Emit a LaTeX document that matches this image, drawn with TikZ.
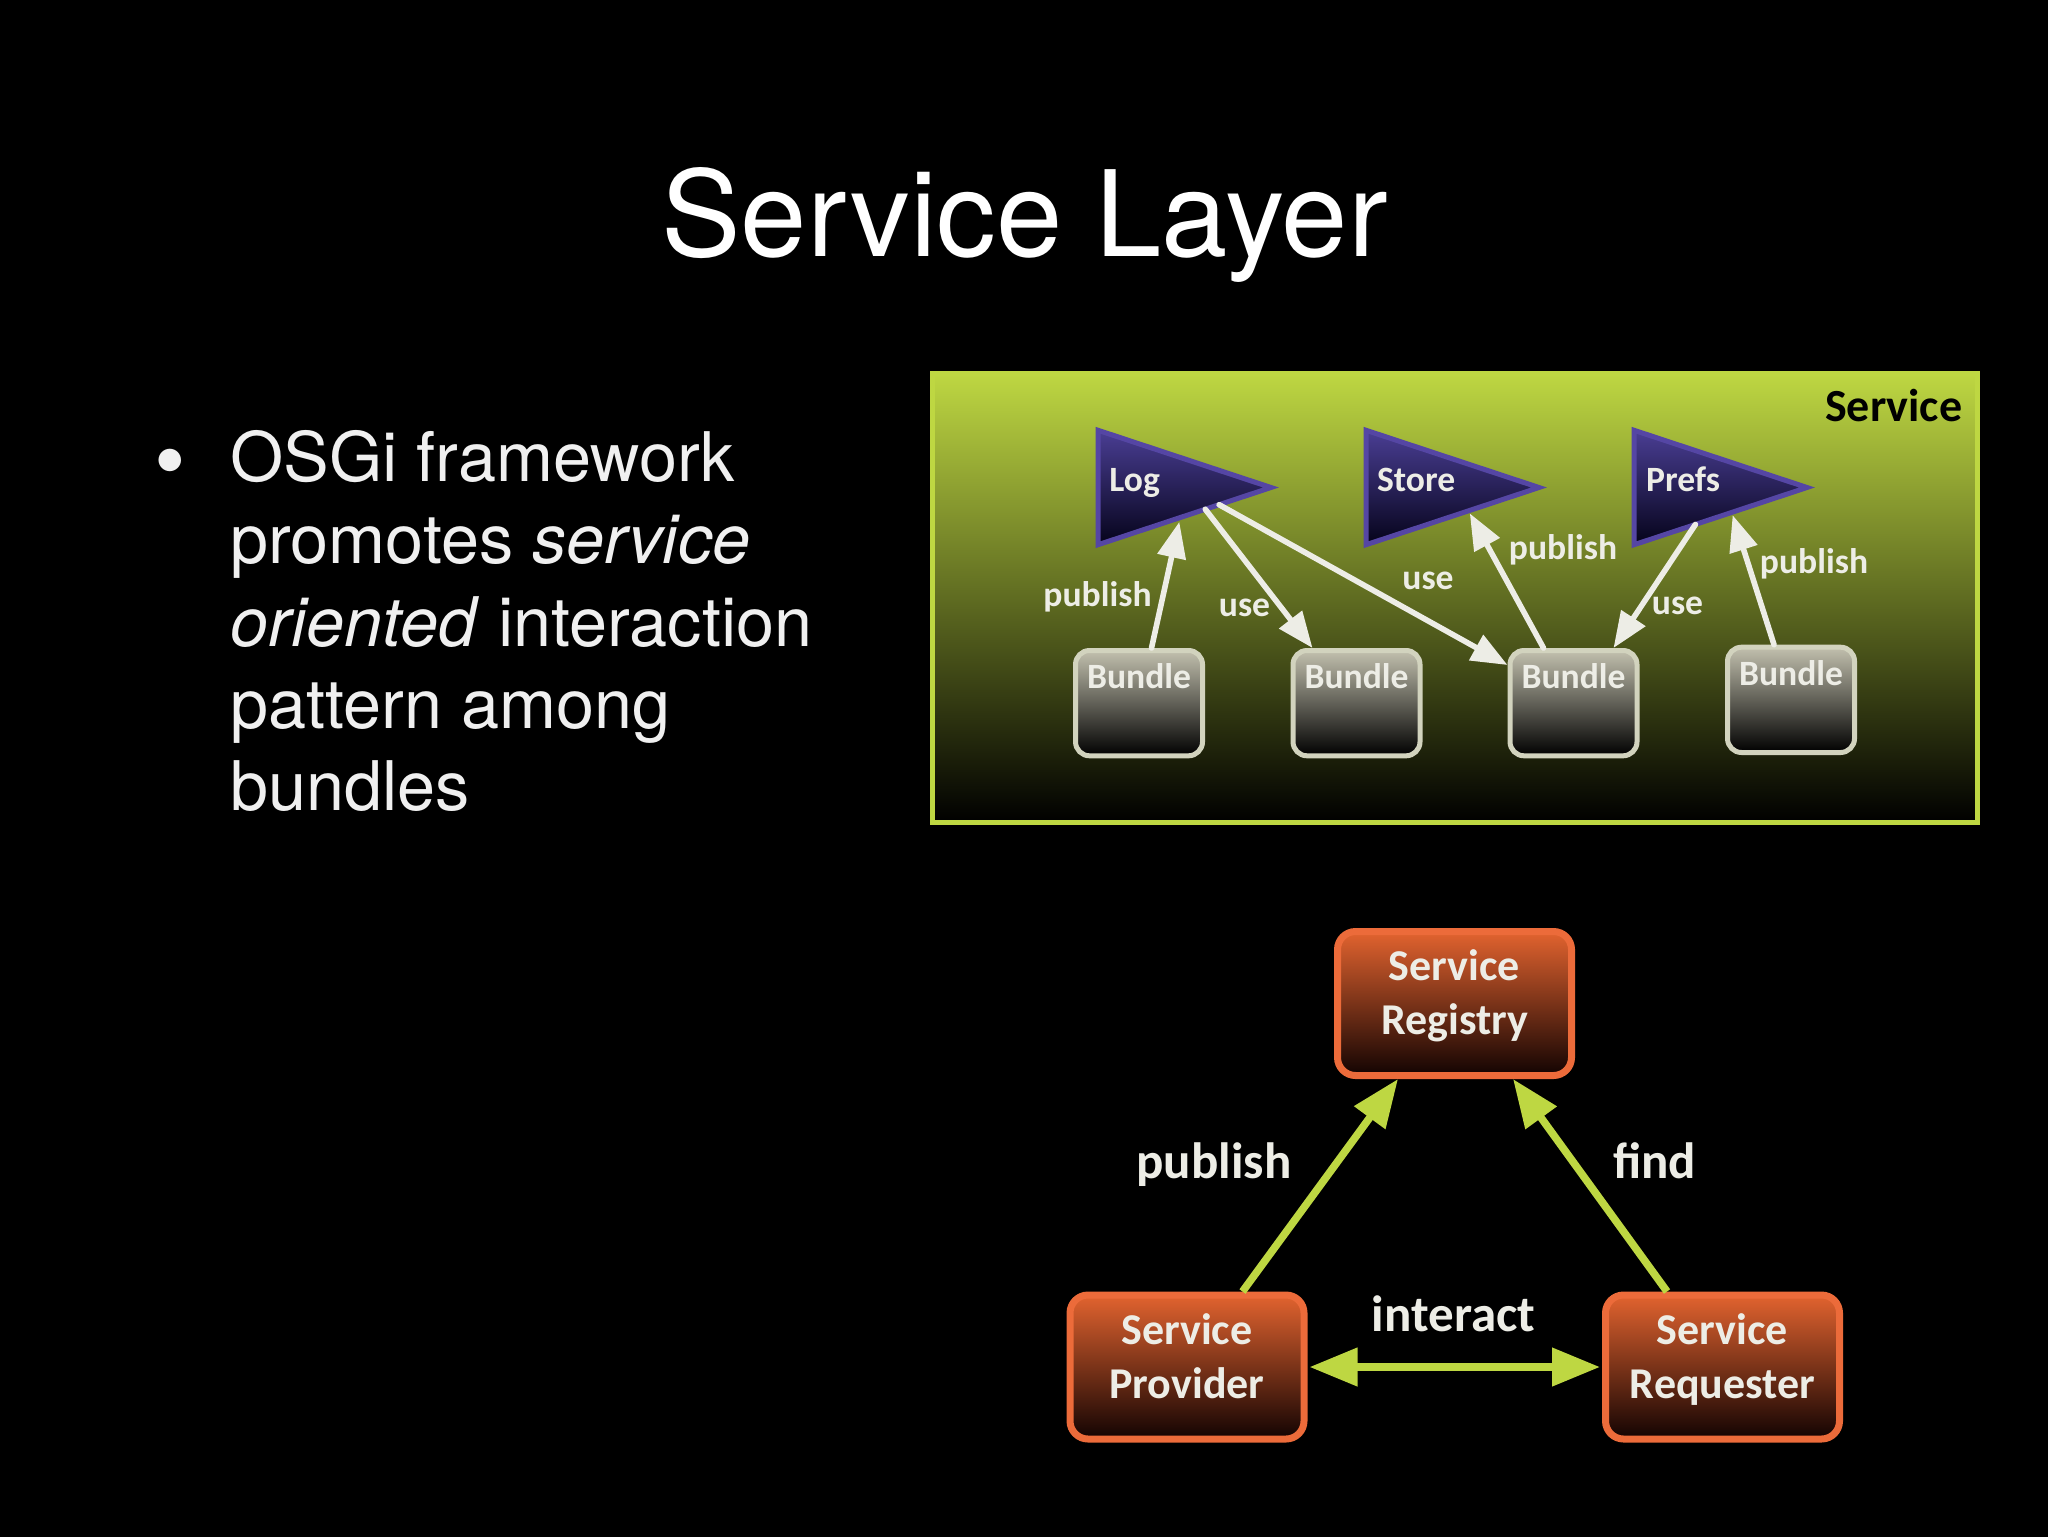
\documentclass[tikz,border=0pt]{standalone}
\usepackage{fontspec}
\setmainfont{TeX Gyre Heros}
\newfontfamily\dfont{Carlito}
\usetikzlibrary{arrows.meta,calc,shapes.geometric}
\definecolor{lime}{HTML}{BED742}
\definecolor{panelmid}{HTML}{6A7A22}
\definecolor{offwhite}{HTML}{EDEDE6}
\definecolor{bodytext}{HTML}{F0F0F0}
\definecolor{triline}{HTML}{5546A4}
\definecolor{tritop}{HTML}{4A3E94}
\definecolor{tribot}{HTML}{05031A}
\definecolor{bundleline}{HTML}{D2D3BE}
\definecolor{bundletop}{HTML}{C2C0AE}
\definecolor{bundlemid}{HTML}{77756A}
\definecolor{orangeline}{HTML}{EC6B3A}
\definecolor{orangetop}{HTML}{E2632F}
\definecolor{orangemid}{HTML}{853719}
\definecolor{orangebot}{HTML}{120302}
\newcommand{\roledepth}{\rule[-11pt]{0pt}{11pt}}
\tikzset{
  x=0.5pt,y=-0.5pt,
  panelbox/.style={draw=lime,line width=2.5pt,top color=lime,middle color=panelmid,bottom color=black,
    minimum width=522.5pt,minimum height=224.5pt,inner sep=0pt,outer sep=0pt},
  servicetri/.style={isosceles triangle,isosceles triangle apex angle=36,isosceles triangle stretches,
    shape border rotate=0,draw=triline,line width=2.5pt,top color=tritop,bottom color=tribot,
    minimum width=57.25pt,minimum height=86.5pt,inner sep=0pt,outer sep=0pt,anchor=lower side},
  bundlebox/.style={rectangle,rounded corners=7pt,draw=bundleline,line width=2.5pt,
    top color=bundletop,middle color=bundlemid,bottom color=black,
    font=\dfont\bfseries\fontsize{17.8}{20}\selectfont,text=offwhite,
    text height=19.15pt,text depth=33.5pt,text width=63.5pt,align=center,inner sep=0pt,outer sep=1.25pt,anchor=north},
  rolebox/.style={rectangle,rounded corners=9pt,draw=orangeline,line width=3.5pt,
    top color=orangetop,middle color=orangemid,bottom color=orangebot,
    font=\dfont\bfseries\fontsize{22}{27}\selectfont,text=offwhite,align=center,
    minimum width=117pt,minimum height=72pt,inner sep=0pt,outer sep=1.75pt},
  smalltext/.style={font=\dfont\bfseries\fontsize{17.8}{20}\selectfont,text=offwhite,anchor=base,inner sep=0pt},
  bigtext/.style={font=\dfont\bfseries\fontsize{25.5}{28}\selectfont,text=offwhite,anchor=base,inner sep=0pt},
  whitearrow/.style={draw=offwhite,line width=2.8pt,line cap=round,
    -{Triangle[length=18pt,width=14pt,fill=offwhite]}},
  limearrow/.style={draw=lime,line width=3.8pt,
    -{Triangle[length=24pt,width=18.5pt,fill=lime]}},
  limebiarrow/.style={draw=lime,line width=3.8pt,shorten <=1pt,shorten >=1pt,
    {Triangle[length=24pt,width=18.5pt,fill=lime]}-{Triangle[length=24pt,width=18.5pt,fill=lime]}},
}
\begin{document}
\begin{tikzpicture}
\useasboundingbox (0,0) rectangle (2048,1536);
\fill[black] (-6,-6) rectangle (2054,1542);

\node[anchor=base,text=white,font=\fontsize{59.6}{70}\selectfont,inner sep=0pt] (title) at (1024.5,256) {Service Layer};
\node[anchor=base,text=bodytext,font=\fontsize{45}{50}\selectfont,inner sep=0pt] (bullet) at (170,491) {\textbullet};
\node[anchor=north west,text=bodytext,align=left,inner sep=0pt,font=\fontsize{34.2}{41.15}\selectfont] (body) at (230,430)
  {OSGi framework\\promotes \textit{service}\\\textit{oriented} interaction\\pattern among\\bundles};

% upper panel
\node[panelbox] (panel) at (1455,598) {};
\node[anchor=base east,inner sep=0pt,text=black,font=\dfont\bfseries\fontsize{23}{26}\selectfont] (paneltitle) at (1962.6,421.5) {Service};

\node[servicetri] (log) at (1098,487.5) {};
\node[servicetri] (store) at (1366,487.5) {};
\node[servicetri] (prefs) at (1634,487.5) {};
\node[smalltext,anchor=base west] (logt) at (1109,491) {Log};
\node[smalltext,anchor=base west] (storet) at (1376.7,491) {Store};
\node[smalltext,anchor=base west] (prefst) at (1645.7,491) {Prefs};

\node[bundlebox] (b1) at (1139,648) {Bundle};
\node[bundlebox] (b2) at (1356.5,648) {Bundle};
\node[bundlebox] (b3) at (1573.5,648) {Bundle};
\node[bundlebox] (b4) at (1791,644.7) {Bundle};

\draw[whitearrow] ($(b1.north)+(12.5,0)$) -- ($(log.right corner)!.47!(log.apex)+(0,4)$);
\draw[whitearrow] ($(log.right corner)!.62!(log.apex)$) -- ($(b2.north)+(-44,0)$);
\draw[whitearrow] ($(log.right corner)!.70!(log.apex)$) -- ($(b3.north west)+(0,17)$);
\draw[whitearrow] ($(b3.north)+(-30,0)$) -- ($(store.right corner)!.60!(store.apex)+(0,3)$);
\draw[whitearrow] ($(prefs.right corner)!.355!(prefs.apex)$) -- ($(b3.north)+(40,0)$);
\draw[whitearrow] ($(b4.north)+(-17,0)$) -- ($(prefs.right corner)!.57!(prefs.apex)+(0,3)$);

\node[smalltext] (l1) at (1097.5,606) {publish};
\node[smalltext] (l2) at (1244.5,616) {use};
\node[smalltext] (l3) at (1428,589) {use};
\node[smalltext] (l4) at (1563,559) {publish};
\node[smalltext] (l5) at (1677.5,614) {use};
\node[smalltext] (l6) at (1814,573.5) {publish};

% lower triangle
\node[rolebox] (reg) at (1454.5,1003.5) {Service\\Registry\roledepth};
\node[rolebox] (prov) at (1187,1367) {Service\\Provider\roledepth};
\node[rolebox] (req) at (1722.5,1367) {Service\\Requester\roledepth};

\draw[limearrow] ($(prov.north)+(55.5,0)$) -- ($(reg.south)+(-56.5,0)$);
\draw[limearrow] ($(req.north)+(-55.5,0)$) -- ($(reg.south)+(58.5,0)$);
\draw[limebiarrow] (prov.east) -- (req.west);

\node[bigtext] (l7) at (1214,1178.4) {publish};
\node[bigtext] (l8) at (1654.5,1178.4) {find};
\node[bigtext] (l9) at (1453.5,1331) {interact};
\end{tikzpicture}
\end{document}
